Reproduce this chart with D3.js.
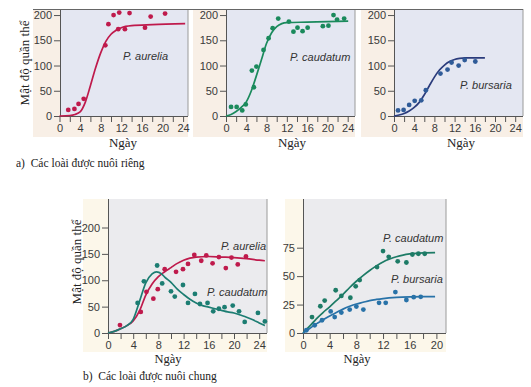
<!DOCTYPE html>
<html>
<head>
<meta charset="utf-8">
<script src="https://cdn.jsdelivr.net/npm/d3@7"></script>
<style>
	body { margin: 0; background: #fff; }
	svg { display: block; }
</style>
</head>
<body>
<div id="chart"></div>
<script>
"use strict";

// ---- data ----
var xTicks24 = [0, 2, 4, 6, 8, 10, 12, 14, 16, 18, 20, 22, 24];
var xTicks20 = [0, 2, 4, 6, 8, 10, 12, 14, 16, 18, 20];
var yTicks200 = [0, 50, 100, 150, 200];
var yTicks75 = [0, 25, 50, 75];

// a) grown alone
var aureliaAloneDots = [[1.7, 12], [2.9, 14], [3.7, 24], [4.7, 34], [8.9, 140], [9.5, 182], [10.5, 200],
	[11.4, 172], [11.6, 205], [12.7, 172], [13.6, 204], [16.6, 175], [17.7, 197], [20.5, 203]];
var aureliaAloneCurve = [[0, 0], [2, 1], [3, 3], [4, 8], [5, 27], [6, 60], [7, 95], [8, 125], [9, 148],
	[10, 162], [11, 170], [12, 175], [14, 179], [18, 181], [24.4, 183]];

var caudatumAloneDots = [[1.0, 18], [2.1, 18], [3.2, 11], [3.9, 23], [5.1, 90], [5.5, 57], [6.0, 98],
	[7.4, 131], [8.4, 154], [9.2, 174], [10.3, 193], [12.4, 187], [13.3, 167], [14.1, 175], [15.1, 168],
	[16.1, 175], [19.1, 178], [20.2, 179], [21.2, 200], [21.9, 191], [23.3, 193]];
var caudatumAloneCurve = [[0, 0], [1, 3], [2, 9], [3, 17], [4, 28], [5, 50], [6, 80], [7, 112], [8, 144],
	[9, 165], [10, 177], [11, 183], [12, 185], [16, 186], [20, 187], [24.1, 188]];

var bursariaAloneDots = [[0.8, 11], [1.9, 12], [3.0, 22], [4.1, 30], [5.4, 31], [6.3, 51], [9.2, 84],
	[10.6, 92], [11.4, 106], [12.8, 100], [14.0, 111], [16.1, 108]];
var bursariaAloneCurve = [[0, 0], [1, 2], [2, 5], [3, 10], [4, 17], [5, 27], [6, 42], [7, 60], [8, 77],
	[9, 91], [10, 101], [11, 108], [12, 112], [13, 114], [14, 115], [16, 115], [18, 115]];

// b) grown together
var aureliaMixDots = [[1.9, 15], [5.2, 40], [6.1, 78], [7.2, 65], [7.9, 83], [9.0, 121], [10.8, 116],
	[11.9, 121], [12.7, 131], [13.7, 148], [14.8, 137], [15.6, 147], [16.6, 132], [17.6, 144], [18.7, 123],
	[19.6, 143], [20.6, 130], [21.9, 145]];
var aureliaMixCurve = [[0, 0], [1, 3], [2, 8], [3, 14], [4, 23], [5, 42], [6, 72], [7, 93], [8, 107],
	[9, 116], [10, 124], [11, 132], [12, 138], [13, 142], [14, 144], [16, 145], [18, 144], [20, 143],
	[22, 141], [24, 138], [24.9, 137]];
var caudatumMixDots = [[4.7, 57], [5.7, 98], [7.8, 128], [8.6, 94], [10.0, 79], [10.6, 69], [11.9, 91],
	[12.7, 57], [13.8, 74], [14.6, 55], [15.8, 57], [16.7, 41], [17.6, 46], [18.5, 49], [19.8, 52],
	[20.8, 41], [21.7, 21], [23.8, 38], [24.9, 22]];
var caudatumMixCurve = [[0, 0], [1, 3], [2, 8], [3, 14], [4, 26], [5, 60], [6, 95], [7, 112], [7.7, 116],
	[8.5, 112], [9, 106], [10, 96], [11, 83], [12, 73], [13, 64], [14, 57], [15, 52], [16, 49], [17, 46],
	[18, 43], [19, 40], [20, 38], [21, 34], [22, 30], [23, 25], [24, 19], [24.9, 14]];

var caudatumWithBursariaDots = [[1.35, 14], [2.6, 23.5], [3.25, 28.5], [4.9, 37.6], [5.75, 32.6],
	[7.1, 31], [7.9, 41], [8.5, 46.5], [11.1, 58], [12.0, 72], [12.85, 67], [14.2, 63], [15.5, 62],
	[16.4, 69], [17.3, 69.7], [18.25, 69.7]];
var caudatumWithBursariaCurve = [[0, 0], [1, 6], [2, 12.5], [3, 18], [4, 23], [5, 28.5], [6, 34], [7, 40],
	[8, 45.5], [9, 50.5], [10, 55], [11, 59], [12, 62.5], [13, 65], [14, 67], [15, 68.5], [16, 69.5],
	[18, 70.5], [19.8, 70.7]];
var bursariaWithCaudatumDots = [[0.5, 2.4], [1.75, 6.8], [2.85, 11.2], [4.15, 19], [4.75, 14], [5.75, 18],
	[7.0, 20.6], [8.0, 23.2], [9.05, 20.6], [11.4, 26.5], [12.4, 26.5], [13.85, 36], [15.5, 29],
	[16.6, 31.5], [17.65, 31.8]];
var bursariaWithCaudatumCurve = [[0, 0], [1, 4], [2, 8], [3, 11.5], [4, 15], [5, 18], [6, 21], [7, 23.5],
	[8, 25.5], [9, 27], [10, 28.5], [11, 29.5], [12, 30.3], [14, 31.3], [16, 31.8], [18, 32], [19.8, 32]];

//
// Colours
//
var red = "#bf1a4c";
var green = "#1a8a5c";
var navyLine = "#2b3c7c";
var navyDot = "#2f5b98";
var teal = "#1c7d72";
var tealB = "#1d7b66";
var blueB = "#2872a8";

var W = 531, H = 387;
var sans = "'Liberation Sans', Arial, sans-serif";
var serif = "'Liberation Serif', 'Times New Roman', serif";

//
// Draw Canvas
//
var svg = d3.select("#chart")
	.append("svg")
		.attr("width", W)
		.attr("height", H);

var line = d3.line()
	.x(function(d) { return d[0]; })
	.y(function(d) { return d[1]; })
	.curve(d3.curveMonotoneX);

function drawPanel(p) {
	var x = d3.scaleLinear().domain(p.xDomain).range(p.xRange);
	var y = d3.scaleLinear().domain(p.yDomain).range(p.yRange);

	var g = svg.append("g");

	// backgrounds
	g.append("rect")
		.attr("x", p.bg[0]).attr("y", p.bg[1])
		.attr("width", p.bg[2] - p.bg[0]).attr("height", p.bg[3] - p.bg[1])
		.attr("fill", p.bgColor);
	g.append("rect")
		.attr("x", p.plot[0]).attr("y", p.plot[1])
		.attr("width", p.plot[2] - p.plot[0]).attr("height", p.plot[3] - p.plot[1])
		.attr("fill", p.plotColor);
	g.append("line")
		.attr("x1", p.plot[2]).attr("x2", p.plot[2])
		.attr("y1", p.plot[1]).attr("y2", p.plot[3])
		.attr("stroke", "#9a9a9a").attr("stroke-width", 1);

	// axes
	var xAxis = d3.axisBottom(x)
		.tickValues(p.xTicks)
		.tickSize(6)
		.tickSizeOuter(0)
		.tickPadding(2)
		.tickFormat(function(d) { return d % 4 === 0 ? d : ""; });
	var yAxis = d3.axisLeft(y)
		.tickValues(p.yTicks)
		.tickSize(6)
		.tickSizeOuter(0)
		.tickPadding(2);

	var gx = g.append("g")
		.attr("transform", "translate(0," + p.plot[3] + ")")
		.call(xAxis);
	var gy = g.append("g")
		.attr("transform", "translate(" + p.plot[0] + ",0)")
		.call(yAxis);
	[gx, gy].forEach(function(a) {
		a.select(".domain").remove();
		a.selectAll(".tick line").attr("stroke", "#555");
		a.selectAll(".tick text")
			.attr("fill", "#3a3a3a")
			.style("font-family", sans)
			.style("font-size", "11px");
	});
	g.append("line")
		.attr("x1", p.plot[0]).attr("x2", p.plot[2])
		.attr("y1", p.plot[3] + 0.5).attr("y2", p.plot[3] + 0.5)
		.attr("stroke", "#555");
	g.append("line")
		.attr("x1", p.plot[0] + 0.5).attr("x2", p.plot[0] + 0.5)
		.attr("y1", p.plot[1]).attr("y2", p.plot[3])
		.attr("stroke", "#555");

	// series
	p.series.forEach(function(s) {
		g.append("path")
			.datum(s.curve.map(function(d) { return [x(d[0]), y(d[1])]; }))
			.attr("d", line)
			.attr("fill", "none")
			.attr("stroke", s.lineColor)
			.attr("stroke-width", 1.7);
		g.selectAll(null)
			.data(s.dots)
		  .enter().append("circle")
			.attr("cx", function(d) { return x(d[0]); })
			.attr("cy", function(d) { return y(d[1]); })
			.attr("r", 2.4)
			.attr("fill", s.dotColor);
		g.append("text")
			.attr("x", s.label[0]).attr("y", s.label[1])
			.attr("fill", "#333")
			.style("font-family", sans)
			.style("font-style", "italic")
			.style("font-size", "11px")
			.text(s.name);
	});

	// "Ngày"
	g.append("text")
		.attr("x", p.xLabel[0]).attr("y", p.xLabel[1])
		.attr("text-anchor", "middle")
		.attr("fill", "#222")
		.style("font-family", serif)
		.style("font-size", p.xLabelSize)
		.text("Ngày");
}

//
// Row a
//
var aYScaleDomain = [0, 212];

drawPanel({
	bg: [33, 9, 188, 137], plot: [60, 9, 188, 116],
	bgColor: "#f8efe6", plotColor: "#e4e7f2",
	xDomain: [0, 24], xRange: [59.5, 183.1],
	yDomain: aYScaleDomain, yRange: [116, 9],
	xTicks: xTicks24, yTicks: yTicks200,
	xLabel: [123, 147], xLabelSize: "13px",
	series: [{ name: "P. aurelia", dots: aureliaAloneDots, curve: aureliaAloneCurve,
		lineColor: red, dotColor: red, label: [123, 60] }]
});

drawPanel({
	bg: [193, 9, 355, 137], plot: [226, 9, 355, 116],
	bgColor: "#f8efe6", plotColor: "#e4e7f2",
	xDomain: [0, 24], xRange: [226, 347.7],
	yDomain: aYScaleDomain, yRange: [116, 9],
	xTicks: xTicks24, yTicks: yTicks200,
	xLabel: [292, 147], xLabelSize: "13px",
	series: [{ name: "P. caudatum", dots: caudatumAloneDots, curve: caudatumAloneCurve,
		lineColor: green, dotColor: green, label: [290, 61] }]
});

drawPanel({
	bg: [361, 9, 523, 137], plot: [394, 9, 523, 116],
	bgColor: "#f8efe6", plotColor: "#e4e7f2",
	xDomain: [0, 24], xRange: [394, 515.2],
	yDomain: aYScaleDomain, yRange: [116, 9],
	xTicks: xTicks24, yTicks: yTicks200,
	xLabel: [461, 147], xLabelSize: "13px",
	series: [{ name: "P. bursaria", dots: bursariaAloneDots, curve: bursariaAloneCurve,
		lineColor: navyLine, dotColor: navyDot, label: [460, 89] }]
});

// top rule over row a
svg.append("line")
	.attr("x1", 33).attr("x2", 523)
	.attr("y1", 9.5).attr("y2", 9.5)
	.attr("stroke", "#666");

//
// Row b
//
drawPanel({
	bg: [83, 199, 267, 352], plot: [108, 199, 267, 333],
	bgColor: "#fcf7ea", plotColor: "#ebebee",
	xDomain: [0, 24], xRange: [108, 259.2],
	yDomain: [0, 200], yRange: [333, 227.5],
	xTicks: xTicks24, yTicks: yTicks200,
	xLabel: [168, 363], xLabelSize: "12.5px",
	series: [
		{ name: "P. aurelia", dots: aureliaMixDots, curve: aureliaMixCurve,
			lineColor: red, dotColor: red, label: [221, 250] },
		{ name: "P. caudatum", dots: caudatumMixDots, curve: caudatumMixCurve,
			lineColor: teal, dotColor: teal, label: [207, 296] }
	]
});

drawPanel({
	bg: [285, 199, 446, 352], plot: [303, 199, 446, 333],
	bgColor: "#fcf7ea", plotColor: "#ebebee",
	xDomain: [0, 20], xRange: [303, 436.4],
	yDomain: [0, 75], yRange: [333, 247.7],
	xTicks: xTicks20, yTicks: yTicks75,
	xLabel: [357, 363], xLabelSize: "12.5px",
	series: [
		{ name: "P. caudatum", dots: caudatumWithBursariaDots, curve: caudatumWithBursariaCurve,
			lineColor: tealB, dotColor: tealB, label: [383, 242] },
		{ name: "P. bursaria", dots: bursariaWithCaudatumDots, curve: bursariaWithCaudatumCurve,
			lineColor: blueB, dotColor: blueB, label: [391, 283] }
	]
});

//
// Titles
//
svg.append("text")
	.attr("transform", "translate(29,63) rotate(-90)")
	.attr("text-anchor", "middle")
	.attr("fill", "#222")
	.style("font-family", serif)
	.style("font-size", "13px")
	.text("Mật độ quần thể");

svg.append("text")
	.attr("transform", "translate(81,262) rotate(-90)")
	.attr("text-anchor", "middle")
	.attr("fill", "#222")
	.style("font-family", serif)
	.style("font-size", "13px")
	.text("Mật độ quần thể");

svg.append("text")
	.attr("x", 16).attr("y", 167)
	.attr("fill", "#222")
	.style("font-family", serif)
	.style("font-size", "11.5px")
	.style("white-space", "pre")
	.text("a)  Các loài được nuôi riêng");

svg.append("text")
	.attr("x", 83).attr("y", 380)
	.attr("fill", "#222")
	.style("font-family", serif)
	.style("font-size", "11.5px")
	.style("white-space", "pre")
	.text("b)  Các loài được nuôi chung");
</script>
</body>
</html>
